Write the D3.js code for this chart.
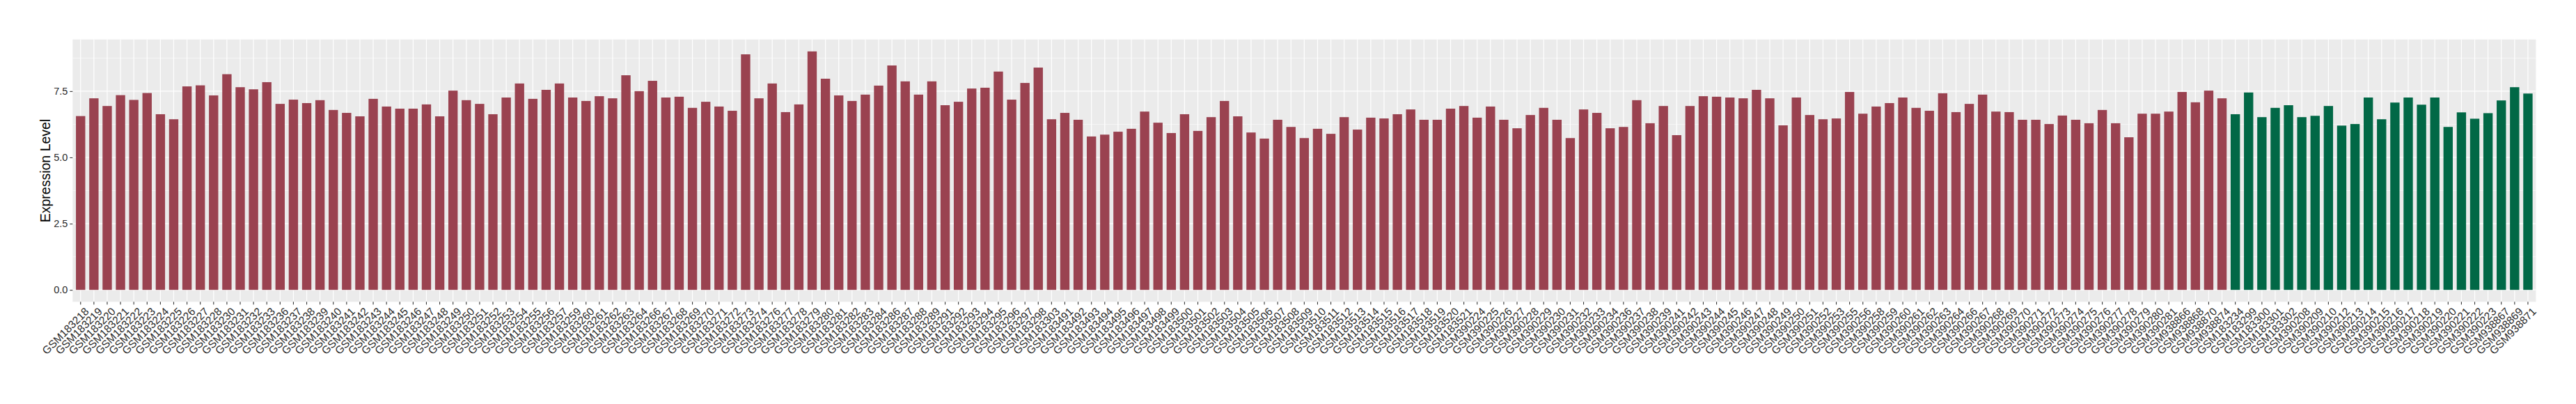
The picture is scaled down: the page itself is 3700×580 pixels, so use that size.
<!DOCTYPE html>
<html>
<head>
<meta charset="utf-8">
<script src="https://cdn.jsdelivr.net/npm/d3@7/dist/d3.min.js"></script>
<style>
    body { margin: 0; background: #ffffff; }
    text { font-family: "Liberation Sans", Arial, sans-serif; }
</style>
</head>
<body>
<svg class="chart"></svg>
<script>
'use strict';

var CHART_WIDTH = 3700;
var CHART_HEIGHT = 580;
var PANEL = { left: 104.3, right: 3642.4, top: 56.7, bottom: 433.3 };
var BAR_WIDTH = 0.7;

// first group of samples (dark red bars)
var groupOneSamples = [
    "GSM183218", "GSM183219", "GSM183220", "GSM183221", "GSM183222", "GSM183223", "GSM183224", "GSM183225",
    "GSM183226", "GSM183227", "GSM183228", "GSM183230", "GSM183231", "GSM183232", "GSM183233", "GSM183236",
    "GSM183237", "GSM183238", "GSM183239", "GSM183240", "GSM183241", "GSM183242", "GSM183243", "GSM183244",
    "GSM183245", "GSM183246", "GSM183247", "GSM183248", "GSM183249", "GSM183250", "GSM183251", "GSM183252",
    "GSM183253", "GSM183254", "GSM183255", "GSM183256", "GSM183257", "GSM183259", "GSM183260", "GSM183261",
    "GSM183262", "GSM183263", "GSM183264", "GSM183266", "GSM183267", "GSM183268", "GSM183269", "GSM183270",
    "GSM183271", "GSM183272", "GSM183273", "GSM183274", "GSM183276", "GSM183277", "GSM183278", "GSM183279",
    "GSM183280", "GSM183281", "GSM183282", "GSM183283", "GSM183284", "GSM183286", "GSM183287", "GSM183288",
    "GSM183289", "GSM183291", "GSM183292", "GSM183293", "GSM183294", "GSM183295", "GSM183296", "GSM183297",
    "GSM183298", "GSM183303", "GSM183491", "GSM183492", "GSM183493", "GSM183494", "GSM183495", "GSM183496",
    "GSM183497", "GSM183498", "GSM183499", "GSM183500", "GSM183501", "GSM183502", "GSM183503", "GSM183504",
    "GSM183505", "GSM183506", "GSM183507", "GSM183508", "GSM183509", "GSM183510", "GSM183511", "GSM183512",
    "GSM183513", "GSM183514", "GSM183515", "GSM183516", "GSM183517", "GSM183518", "GSM183519", "GSM183520",
    "GSM183521", "GSM390224", "GSM390225", "GSM390226", "GSM390227", "GSM390228", "GSM390229", "GSM390230",
    "GSM390231", "GSM390232", "GSM390233", "GSM390234", "GSM390236", "GSM390237", "GSM390238", "GSM390239",
    "GSM390241", "GSM390242", "GSM390243", "GSM390244", "GSM390245", "GSM390246", "GSM390247", "GSM390248",
    "GSM390249", "GSM390250", "GSM390251", "GSM390252", "GSM390253", "GSM390255", "GSM390256", "GSM390258",
    "GSM390259", "GSM390260", "GSM390261", "GSM390262", "GSM390263", "GSM390264", "GSM390266", "GSM390267",
    "GSM390268", "GSM390269", "GSM390270", "GSM390271", "GSM390272", "GSM390273", "GSM390274", "GSM390275",
    "GSM390276", "GSM390277", "GSM390278", "GSM390279", "GSM390280", "GSM390281", "GSM938866", "GSM938868",
    "GSM938870", "GSM938874"
];
var groupOneValues = [
    6.56, 7.23, 6.94, 7.35, 7.17, 7.43, 6.63, 6.44, 7.68, 7.72, 7.34, 8.14, 7.65, 7.57, 7.84, 7.02,
    7.18, 7.05, 7.16, 6.79, 6.68, 6.55, 7.21, 6.92, 6.84, 6.84, 7.00, 6.55, 7.52, 7.16, 7.02, 6.63,
    7.26, 7.79, 7.21, 7.55, 7.79, 7.26, 7.13, 7.31, 7.23, 8.10, 7.50, 7.89, 7.26, 7.29, 6.87, 7.10,
    6.92, 6.76, 8.89, 7.23, 7.79, 6.71, 7.00, 9.00, 7.97, 7.34, 7.13, 7.37, 7.71, 8.47, 7.87, 7.37,
    7.87, 6.97, 7.10, 7.60, 7.63, 8.24, 7.18, 7.81, 8.39, 6.44, 6.68, 6.42, 5.79, 5.86, 5.97, 6.08,
    6.73, 6.31, 5.92, 6.63, 6.00, 6.52, 7.13, 6.55, 5.94, 5.71, 6.42, 6.15, 5.73, 6.08, 5.89, 6.52,
    6.05, 6.50, 6.47, 6.63, 6.81, 6.42, 6.42, 6.84, 6.94, 6.50, 6.92, 6.42, 6.10, 6.60, 6.87, 6.42,
    5.73, 6.81, 6.68, 6.10, 6.15, 7.16, 6.29, 6.94, 5.84, 6.94, 7.31, 7.29, 7.26, 7.23, 7.55, 7.23,
    6.21, 7.26, 6.60, 6.44, 6.47, 7.47, 6.65, 6.92, 7.05, 7.26, 6.87, 6.76, 7.42, 6.71, 7.02, 7.37,
    6.73, 6.71, 6.42, 6.42, 6.26, 6.58, 6.42, 6.29, 6.79, 6.29, 5.76, 6.65, 6.65, 6.73, 7.47, 7.08,
    7.52, 7.23
];

// second group of samples (dark green bars)
var groupTwoSamples = [
    "GSM183234", "GSM183299", "GSM183300", "GSM183301", "GSM183302", "GSM390208", "GSM390209", "GSM390210",
    "GSM390212", "GSM390213", "GSM390214", "GSM390215", "GSM390216", "GSM390217", "GSM390218", "GSM390219",
    "GSM390220", "GSM390221", "GSM390222", "GSM390223", "GSM938867", "GSM938869", "GSM938871"
];
var groupTwoValues = [
    6.63, 7.45, 6.52, 6.87, 6.97, 6.52, 6.57, 6.94,
    6.20, 6.26, 7.26, 6.44, 7.07, 7.26, 6.99, 7.26,
    6.15, 6.70, 6.46, 6.67, 7.15, 7.65, 7.41
];

var yTicks = [0, 2.5, 5, 7.5];
var yMinorTicks = [1.25, 3.75, 6.25, 8.75];
var yTitle = "Expression Level";

var groupColors = { one: "#9a4250", two: "#016846" };

var rows = groupOneSamples.map(function (s, i) {
    return { sample: s, value: groupOneValues[i], group: "one" };
}).concat(groupTwoSamples.map(function (s, i) {
    return { sample: s, value: groupTwoValues[i], group: "two" };
}));

var svg = d3.select(".chart")
    .attr("width", CHART_WIDTH)
    .attr("height", CHART_HEIGHT);

// discrete x: 0.6 step of padding at each end like ggplot
var xScale = d3.scaleBand()
    .domain(rows.map(function (d) { return d.sample; }))
    .range([PANEL.left, PANEL.right])
    .paddingInner(1 - BAR_WIDTH)
    .paddingOuter(0.6 - BAR_WIDTH / 2);

var maxValue = d3.max(rows, function (d) { return d.value; });
var yScale = d3.scaleLinear()
    .domain([-0.05 * maxValue, 1.05 * maxValue])
    .range([PANEL.bottom, PANEL.top]);

function center(s) { return xScale(s) + xScale.bandwidth() / 2; }

// panel background
svg.append("rect")
    .attr("x", PANEL.left)
    .attr("y", PANEL.top)
    .attr("width", PANEL.right - PANEL.left)
    .attr("height", PANEL.bottom - PANEL.top)
    .attr("fill", "#ebebeb");

// grid lines
svg.append("g").selectAll("line.minor")
    .data(yMinorTicks).enter().append("line")
    .attr("x1", PANEL.left).attr("x2", PANEL.right)
    .attr("y1", yScale).attr("y2", yScale)
    .attr("stroke", "#ffffff").attr("stroke-width", 0.6);

svg.append("g").selectAll("line.major")
    .data(yTicks).enter().append("line")
    .attr("x1", PANEL.left).attr("x2", PANEL.right)
    .attr("y1", yScale).attr("y2", yScale)
    .attr("stroke", "#ffffff").attr("stroke-width", 1.2);

svg.append("g").selectAll("line.vgrid")
    .data(rows).enter().append("line")
    .attr("x1", function (d) { return center(d.sample); })
    .attr("x2", function (d) { return center(d.sample); })
    .attr("y1", PANEL.top).attr("y2", PANEL.bottom)
    .attr("stroke", "#ffffff").attr("stroke-width", 1.2);

// bars
svg.append("g").selectAll("rect")
    .data(rows).enter().append("rect")
    .attr("x", function (d) { return xScale(d.sample); })
    .attr("width", xScale.bandwidth())
    .attr("y", function (d) { return yScale(d.value); })
    .attr("height", function (d) { return yScale(0) - yScale(d.value); })
    .attr("fill", function (d) { return groupColors[d.group]; });

// y axis
var yAxis = d3.axisLeft(yScale)
    .tickValues(yTicks)
    .tickFormat(d3.format(".1f"))
    .tickSize(4)
    .tickPadding(3);

var yAxisG = svg.append("g")
    .attr("transform", "translate(" + PANEL.left + ",0)")
    .call(yAxis);
yAxisG.select(".domain").remove();
yAxisG.selectAll(".tick line").attr("stroke", "#333333").attr("stroke-width", 1.1);
yAxisG.selectAll(".tick text")
    .attr("fill", "#2b2b2b")
    .style("font-size", "14.5px")
    .style("font-family", "'Liberation Sans', Arial, sans-serif");

// x axis
var xAxis = d3.axisBottom(xScale)
    .tickSize(4)
    .tickPadding(3);

var xAxisG = svg.append("g")
    .attr("transform", "translate(0," + PANEL.bottom + ")")
    .call(xAxis);
xAxisG.select(".domain").remove();
xAxisG.selectAll(".tick line").attr("stroke", "#333333").attr("stroke-width", 1.1);
xAxisG.selectAll(".tick text")
    .attr("fill", "#2b2b2b")
    .attr("text-anchor", "end")
    .attr("y", 0)
    .attr("dy", "0.72em")
    .attr("transform", "translate(5,7) rotate(-45)")
    .style("font-size", "15.5px")
    .style("font-family", "'Liberation Sans', Arial, sans-serif");

// y title
svg.append("text")
    .attr("transform", "translate(72," + ((PANEL.top + PANEL.bottom) / 2) + ") rotate(-90)")
    .attr("text-anchor", "middle")
    .attr("fill", "#000000")
    .style("font-size", "19.5px")
    .text(yTitle);
</script>
</body>
</html>
